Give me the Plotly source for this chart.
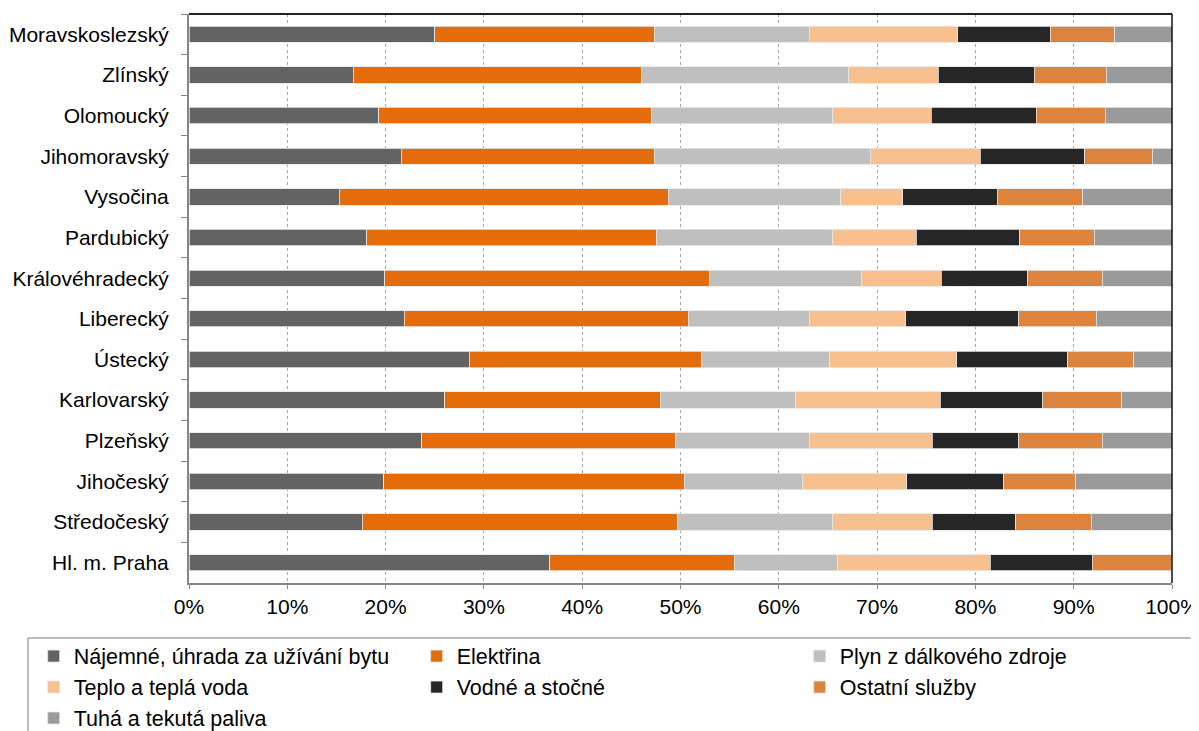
import plotly.graph_objects as go

# regions, top to bottom as in the chart
regions = ["Moravskoslezský", "Zlínský", "Olomoucký", "Jihomoravský", "Vysočina",
           "Pardubický", "Královéhradecký", "Liberecký", "Ústecký", "Karlovarský",
           "Plzeňský", "Jihočeský", "Středočeský", "Hl. m. Praha"]

# shares in %
najemne = [25.0, 16.7, 19.3, 21.6, 15.3, 18.1, 19.9, 21.9, 28.5, 26.0, 23.7, 19.8, 17.6, 36.7]
elektrina = [22.4, 29.3, 27.8, 25.8, 33.5, 29.5, 33.0, 28.9, 23.6, 22.0, 25.8, 30.6, 32.1, 18.8]
plyn = [15.7, 21.1, 18.4, 21.9, 17.5, 17.9, 15.5, 12.3, 13.1, 13.7, 13.6, 12.0, 15.8, 10.5]
teplo = [15.1, 9.1, 10.0, 11.2, 6.3, 8.5, 8.1, 9.8, 12.9, 14.7, 12.5, 10.6, 10.1, 15.5]
vodne = [9.4, 9.8, 10.7, 10.6, 9.6, 10.5, 8.8, 11.5, 11.3, 10.4, 8.8, 9.9, 8.5, 10.4]
ostatni = [6.6, 7.3, 7.0, 6.9, 8.7, 7.6, 7.6, 7.9, 6.7, 8.1, 8.5, 7.3, 7.7, 8.0]
paliva = [5.8, 6.7, 6.8, 2.0, 9.1, 7.9, 7.1, 7.7, 3.9, 5.1, 7.1, 9.8, 8.2, 0.1]

series_names = ["Nájemné, úhrada za užívání bytu", "Elektřina", "Plyn z dálkového zdroje",
                "Teplo a teplá voda", "Vodné a stočné", "Ostatní služby", "Tuhá a tekutá paliva"]
series_values = [najemne, elektrina, plyn, teplo, vodne, ostatni, paliva]
colors = ["#636363", "#E46C0A", "#BFBFBF", "#F9C08F", "#262626", "#DC843E", "#9A9A9A"]

x_ticks = [0, 10, 20, 30, 40, 50, 60, 70, 80, 90, 100]
x_labels = ["0%", "10%", "20%", "30%", "40%", "50%", "60%", "70%", "80%", "90%", "100%"]

fig = go.Figure()
for name, vals, col in zip(series_names, series_values, colors):
    fig.add_trace(go.Bar(y=regions, x=vals, name=name, orientation="h",
                         marker=dict(color=col, line=dict(color="#E6E6E6", width=0.8))))

# the page body adds an 8px offset, margins are set to compensate
fig.update_layout(
    barmode="stack",
    barnorm="percent",
    bargap=0.6,
    width=1199, height=731,
    margin=dict(l=181, r=35, t=6, b=156, autoexpand=False),
    paper_bgcolor="white", plot_bgcolor="white",
    font=dict(family="Liberation Sans, Arial, sans-serif", size=21, color="black"),
    legend=dict(orientation="h", x=-0.158, xanchor="left", y=-0.0925, yanchor="top",
                traceorder="normal", entrywidth=338, entrywidthmode="pixels",
                itemwidth=30, borderwidth=0, bgcolor="rgba(0,0,0,0)",
                font=dict(size=21.5)),
    showlegend=True,
)

fig.update_xaxes(range=[0, 100], tickvals=x_ticks, ticktext=x_labels,
                 showgrid=True, gridcolor="#A6A6A6", griddash="dot", gridwidth=1.2,
                 showline=True, linecolor="#868686", linewidth=1.5,
                 ticks="outside", ticklen=4, tickcolor="#868686",
                 ticklabelstandoff=0, zeroline=False, fixedrange=True, automargin=False)
fig.update_yaxes(autorange="reversed", showline=True, linecolor="#868686", linewidth=2,
                 ticks="outside", ticklen=6, tickcolor="#868686", tickson="boundaries",
                 ticklabelstandoff=14, showgrid=False, fixedrange=True, automargin=False)

# dark frame on top and right of the plot area
fig.add_shape(type="line", xref="paper", yref="paper", x0=0, x1=1, y0=1, y1=1,
              line=dict(color="#222222", width=2))
fig.add_shape(type="line", xref="paper", yref="paper", x0=1, x1=1, y0=0, y1=1,
              line=dict(color="#111111", width=1.5))
# legend box: top and left edges only, it runs off the picture like in the original
fig.add_shape(type="line", xref="paper", yref="paper", x0=-0.1638, x1=1.05, y0=-0.0967, y1=-0.0967,
              line=dict(color="#A6A6A6", width=1.5))
fig.add_shape(type="line", xref="paper", yref="paper", x0=-0.1638, x1=-0.1638, y0=-0.0967, y1=-0.5,
              line=dict(color="#A6A6A6", width=1.5))

fig.write_html("out.html")
